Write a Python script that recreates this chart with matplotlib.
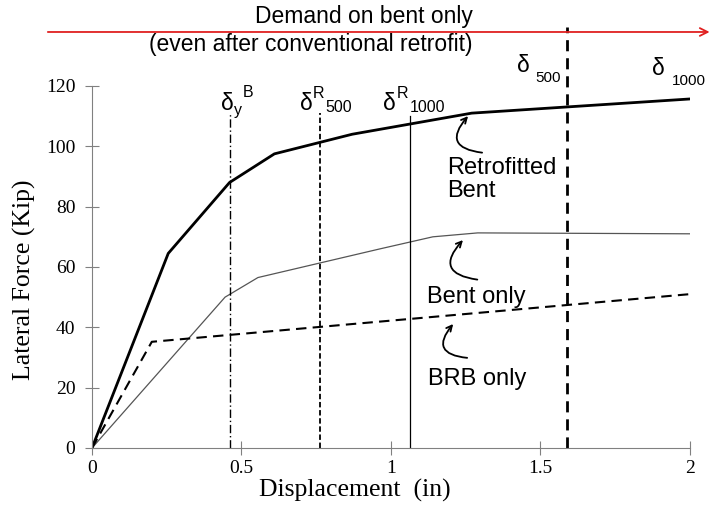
import matplotlib.pyplot as plt

# pushover curves
retro_x = [0, 0.255, 0.46, 0.61, 0.87, 1.27, 2.0]
retro_y = [0, 64.5, 88, 97.5, 104, 111, 115.7]
bent_x = [0, 0.445, 0.555, 0.963, 1.14, 1.29, 2.0]
bent_y = [0, 50, 56.5, 66, 70, 71.3, 71]
brb_x = [0, 0.2, 2.0]
brb_y = [0, 35.2, 51]

# demand lines
d_yB = 0.46
d_R500 = 0.763
d_R1000 = 1.063
d_500 = 1.59

xticks = [0, 0.5, 1, 1.5, 2]
xticklabels = ["0", "0.5", "1", "1.5", "2"]
yticks = [0, 20, 40, 60, 80, 100, 120]

fig = plt.figure(figsize=(7.11, 5.07), dpi=100)
ax = fig.add_axes([0.1294, 0.1164, 0.841, 0.714])

ax.plot(retro_x, retro_y, color="black", lw=2)
ax.plot(bent_x, bent_y, color="#555555", lw=0.9)
ax.plot(brb_x, brb_y, color="black", lw=1.5, ls=(0, (5, 3)))

ax.plot([d_yB, d_yB], [0, 111], color="black", lw=1, ls=(0, (6, 2, 1, 2)))
ax.plot([d_R500, d_R500], [0, 111], color="black", lw=1.3, ls=(0, (3, 1.5)))
ax.plot([d_R1000, d_R1000], [0, 110], color="black", lw=0.9)
ax.plot([d_500, d_500], [0, 139.5], color="black", lw=2, ls=(0, (4, 2.5)), clip_on=False)

ax.set_xlim(0, 2)
ax.set_ylim(0, 120)
ax.spines['top'].set_visible(False)
ax.spines['right'].set_visible(False)
for s in ['left', 'bottom']:
    ax.spines[s].set_color("#808080")
ax.set_xticks(xticks)
ax.set_xticklabels(xticklabels)
ax.set_yticks(yticks)
ax.tick_params(direction='inout', length=10, color="#808080", labelsize=14)
ax.tick_params(axis='y', pad=7)
ax.tick_params(axis='x', pad=4)
for lab in ax.get_xticklabels() + ax.get_yticklabels():
    lab.set_family('Liberation Serif')
ax.set_xlabel("Displacement  (in)", family='Liberation Serif', fontsize=18.5)
ax.xaxis.set_label_coords(0.44, -0.085)
ax.set_ylabel("Lateral Force (Kip)", family='Liberation Serif', fontsize=18.5)
ax.yaxis.set_label_coords(-0.094, 0.464)

# red demand arrow
ax.annotate("", xy=(2.075, 137.9), xytext=(-0.157, 137.9), annotation_clip=False,
            arrowprops=dict(arrowstyle='->', color="#e02020", lw=1.3, mutation_scale=14))
ax.text(1.274, 142.9, "Demand on bent only", family='Liberation Sans', fontsize=16.5,
        ha='right', va='center', clip_on=False)
ax.text(1.274, 133.6, "(even after conventional retrofit)", family='Liberation Sans', fontsize=16.5,
        ha='right', va='center', clip_on=False)


def delta_label(x, y, parts):
    # parts: (text, dx px, dy px, size)
    for txt, dx, dy, size in parts:
        ax.annotate(txt, (x, y), xytext=(dx, dy), textcoords='offset pixels',
                    fontsize=size, family='Liberation Sans', ha='left', va='baseline',
                    annotation_clip=False)


delta_label(1.421, 124.6, [("δ", 0, 0, 16.5), ("500", 18, -10, 11)])
delta_label(1.873, 123.6, [("δ", 0, 0, 16.5), ("1000", 20, -10, 11)])
delta_label(0.432, 112.0, [("δ", 0, 0, 16.5), ("y", 13, -5, 11.5), ("B", 22, 13, 11.5)])
delta_label(0.696, 112.0, [("δ", 0, 0, 16.5), ("R", 13, 12, 11.5), ("500", 25, -2, 11.5)])
delta_label(0.973, 112.0, [("δ", 0, 0, 16.5), ("R", 14, 12, 11.5), ("1000", 27, -2, 11.5)])

# curve labels with curved arrows
ax.text(1.187, 96.5, "Retrofitted\nBent", family='Liberation Sans', fontsize=17,
        va='top', linespacing=1.05)
ax.annotate("", xy=(1.264, 110.7), xytext=(1.314, 97.8),
            arrowprops=dict(arrowstyle='->', color="black", lw=1.3,
                            connectionstyle="arc3,rad=-1.0"))
ax.text(1.12, 50, "Bent only", family='Liberation Sans', fontsize=17, va='center')
ax.annotate("", xy=(1.247, 69.6), xytext=(1.298, 55.7),
            arrowprops=dict(arrowstyle='->', color="black", lw=1.3,
                            connectionstyle="arc3,rad=-1.0"))
ax.text(1.124, 23, "BRB only", family='Liberation Sans', fontsize=17, va='center')
ax.annotate("", xy=(1.214, 41.8), xytext=(1.264, 29.8),
            arrowprops=dict(arrowstyle='->', color="black", lw=1.3,
                            connectionstyle="arc3,rad=-1.0"))

fig.savefig("out.png", dpi=100)
